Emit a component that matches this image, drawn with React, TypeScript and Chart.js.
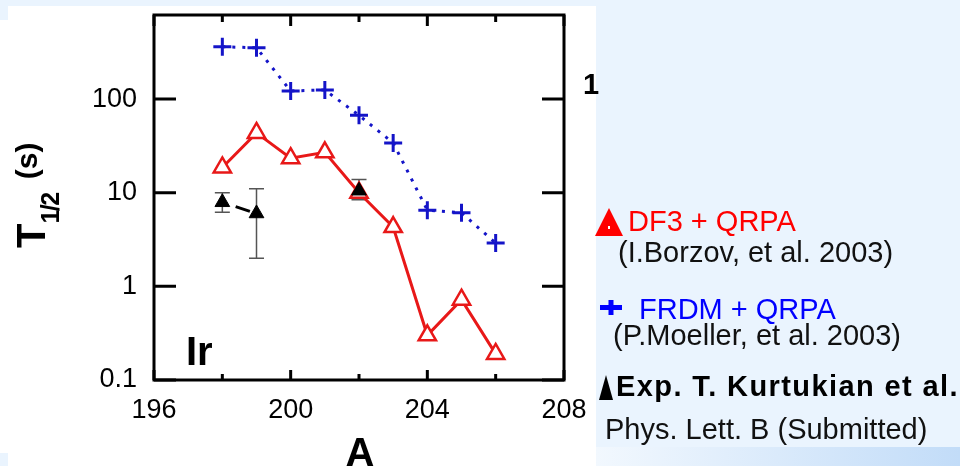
import React, { useEffect, useRef } from "react";
import { Chart, registerables } from "chart.js";
Chart.register(...registerables);

// ---- data ----
const massNumbers = [198, 199, 200, 201, 202, 203, 204, 205, 206];
const df3Values = [18.6, 43.5, 23.4, 27, 10, 4.3, 0.3, 0.72, 0.19];
const frdmValues = [362, 353, 122, 125, 67, 34, 6.5, 6.1, 2.9];
const expMass = [198, 199, 202];
const expValues = [7.9, 6.0, 10.5];
const expLow = [6.2, 2.0, 8.4];
const expHigh = [10.0, 11.0, 13.8];
const xTickValues = [196, 200, 204, 208];
const xTickLabels = ["196", "200", "204", "208"];
const xMinorTicks = [198, 202, 206];
const yTickValues = [0.1, 1, 10, 100];
const yTickLabels = ["0.1", "1", "10", "100"];

const FONT = "'Liberation Sans', Arial, Helvetica, sans-serif";
const RED = "#e81818";
const BLUE = "#1414c8";

const errorBarPlugin = {
  id: "errorBars",
  beforeDatasetsDraw(chart: any) {
    const { ctx } = chart;
    const xs = chart.scales.x;
    const ys = chart.scales.y;
    ctx.save();
    ctx.strokeStyle = "#555";
    ctx.lineWidth = 1.5;
    expMass.forEach((m, i) => {
      const px = xs.getPixelForValue(m);
      const lo = ys.getPixelForValue(expLow[i]);
      const hi = ys.getPixelForValue(expHigh[i]);
      ctx.beginPath();
      ctx.moveTo(px, lo);
      ctx.lineTo(px, hi);
      ctx.moveTo(px - 7.5, lo);
      ctx.lineTo(px + 7.5, lo);
      ctx.moveTo(px - 7.5, hi);
      ctx.lineTo(px + 7.5, hi);
      ctx.stroke();
    });
    ctx.restore();
  },
};

const framePlugin = {
  id: "frame",
  afterDraw(chart: any) {
    const { ctx, chartArea } = chart;
    const { left, right, top, bottom } = chartArea;
    const xs = chart.scales.x;
    const ys = chart.scales.y;
    ctx.save();
    ctx.strokeStyle = "#000";
    ctx.lineWidth = 3;
    ctx.beginPath();
    yTickValues.forEach((v) => {
      const py = ys.getPixelForValue(v);
      ctx.moveTo(left, py);
      ctx.lineTo(left + 22, py);
      ctx.moveTo(right, py);
      ctx.lineTo(right - 22, py);
    });
    xTickValues.forEach((v) => {
      const px = xs.getPixelForValue(v);
      ctx.moveTo(px, bottom);
      ctx.lineTo(px, bottom - 10);
      ctx.moveTo(px, top);
      ctx.lineTo(px, top + 11);
    });
    xMinorTicks.forEach((v) => {
      const px = xs.getPixelForValue(v);
      ctx.moveTo(px, bottom);
      ctx.lineTo(px, bottom - 6);
      ctx.moveTo(px, top);
      ctx.lineTo(px, top + 7);
    });
    ctx.stroke();
    ctx.strokeRect(left, top, right - left, bottom - top);
    ctx.restore();
  },
};

function Txt(props: {
  x: number;
  base: number;
  size: number;
  color?: string;
  bold?: boolean;
  ls?: number;
  children: React.ReactNode;
}) {
  const { x, base, size, color = "#000", bold = false, ls = 0 } = props;
  return (
    <div
      style={{
        position: "absolute",
        left: x,
        top: base - size * 0.8465,
        fontFamily: FONT,
        fontSize: size,
        lineHeight: `${size}px`,
        fontWeight: bold ? 700 : 400,
        color,
        whiteSpace: "nowrap",
        letterSpacing: ls,
      }}
    >
      {props.children}
    </div>
  );
}

export default function App() {
  const ref = useRef<HTMLCanvasElement | null>(null);

  useEffect(() => {
    if (!ref.current) return;
    const chart = new Chart(ref.current, {
      type: "line",
      data: {
        datasets: [
          {
            label: "Exp. T. Kurtukian et al.",
            data: expMass.map((m, i) => ({ x: m, y: expValues[i] })),
            borderColor: "#000",
            borderWidth: 3,
            borderDash: [15, 100],
            borderDashOffset: 101,
            pointStyle: "triangle",
            pointRadius: 8.5,
            pointBackgroundColor: "#000",
            pointBorderColor: "#000",
            pointBorderWidth: 1,
            segment: {
              borderColor: (c: any) =>
                c.p1.parsed.x - c.p0.parsed.x > 1 ? "rgba(0,0,0,0)" : "#000",
            },
          } as any,
          {
            label: "DF3 + QRPA",
            data: massNumbers.map((m, i) => ({ x: m, y: df3Values[i] })),
            borderColor: RED,
            borderWidth: 3,
            pointStyle: "triangle",
            pointRadius: 10,
            pointBorderWidth: 2.5,
            pointBorderColor: RED,
            pointBackgroundColor: "#fff",
          },
          {
            label: "FRDM + QRPA",
            data: massNumbers.map((m, i) => ({ x: m, y: frdmValues[i] })),
            borderColor: BLUE,
            borderWidth: 3,
            borderDash: [3, 7],
            pointStyle: "cross",
            pointRadius: 9,
            pointBorderWidth: 3,
            pointBorderColor: BLUE,
          },
        ],
      },
      options: {
        animation: false,
        responsive: false,
        maintainAspectRatio: false,
        layout: { padding: { left: 0, top: 15, right: 396, bottom: 0 } },
        plugins: { legend: { display: false }, tooltip: { enabled: false } },
        scales: {
          x: {
            type: "linear",
            min: 196,
            max: 208,
            afterBuildTicks: (s: any) => {
              s.ticks = xTickValues.map((v) => ({ value: v }));
            },
            afterFit: (s: any) => {
              s.height = 86;
              s.paddingLeft = 0;
              s.paddingRight = 0;
            },
            grid: { display: false, drawTicks: false },
            border: { display: false },
            ticks: {
              autoSkip: false,
              maxRotation: 0,
              padding: 14,
              color: "#000",
              font: { family: FONT, size: 27 },
              callback: (_v: any, i: number) => xTickLabels[i],
            },
          },
          y: {
            type: "logarithmic",
            min: 0.1,
            max: 790,
            afterBuildTicks: (s: any) => {
              s.ticks = yTickValues.map((v) => ({ value: v }));
            },
            afterFit: (s: any) => {
              s.width = 154;
              s.paddingTop = 0;
              s.paddingBottom = 0;
            },
            grid: { display: false, drawTicks: false },
            border: { display: false },
            ticks: {
              autoSkip: false,
              padding: 17,
              color: "#000",
              font: { family: FONT, size: 27 },
              callback: (_v: any, i: number) => yTickLabels[i],
            },
          },
        },
      } as any,
      plugins: [errorBarPlugin, framePlugin],
    });
    return () => chart.destroy();
  }, []);

  return (
    <div
      style={{
        position: "fixed",
        left: 0,
        top: 0,
        width: 960,
        height: 466,
        overflow: "hidden",
        background: "rgb(234,244,254)",
      }}
    >
      <div style={{ position: "absolute", left: 8, top: 6, width: 588, height: 460, background: "#fff" }} />
      <div style={{ position: "absolute", left: 0, top: 20, width: 8, height: 433, background: "#fff" }} />
      <div
        style={{
          position: "absolute",
          left: 596,
          top: 447,
          width: 364,
          height: 19,
          background: "linear-gradient(to right, #f2f8fe, #c2dcf8)",
        }}
      />
      <canvas
        ref={ref}
        width={960}
        height={466}
        style={{ position: "absolute", left: 0, top: 0, width: 960, height: 466 }}
      />
      {/* y-axis title */}
      <div
        style={{
          position: "absolute",
          left: 11,
          top: 248,
          transformOrigin: "0 0",
          transform: "rotate(-90deg)",
          fontFamily: FONT,
          fontWeight: 700,
          fontSize: 40,
          lineHeight: "40px",
          whiteSpace: "nowrap",
          color: "#000",
        }}
      >
        <span>T</span>
        <span style={{ fontSize: 25, lineHeight: 0, position: "relative", top: 14, letterSpacing: -1.5 }}>1/2</span>
        <span style={{ fontSize: 30, lineHeight: 0, position: "relative", top: -8, marginLeft: 14 }}>(s)</span>
      </div>
      {/* x-axis title */}
      <div
        style={{
          position: "absolute",
          left: 300,
          width: 120,
          textAlign: "center",
          top: 466 - 40 * 0.8465,
          fontFamily: FONT,
          fontWeight: 700,
          fontSize: 40,
          lineHeight: "40px",
          color: "#000",
        }}
      >
        A
      </div>
      <Txt x={186} base={365} size={40} bold>
        Ir
      </Txt>
      <Txt x={583} base={95} size={29} bold>
        1
      </Txt>
      {/* legend */}
      <svg
        width={960}
        height={466}
        style={{ position: "absolute", left: 0, top: 0, pointerEvents: "none" }}
      >
        <polygon points="595,236 609,208 623,236" fill="#ff0000" />
        <rect x={608} y={226} width={2} height={3} fill="#fff" />
        <rect x={600} y={305} width={22} height={5} fill="#0000ff" />
        <rect x={608.5} y={300} width={5} height={15} fill="#0000ff" />
        <polygon points="599,400 606,375 613,400" fill="#000" />
      </svg>
      <Txt x={628} base={232} size={29} color="#ff0000">
        DF3 + QRPA
      </Txt>
      <Txt x={618} base={263} size={29} color="#111">
        (I.Borzov, et al. 2003)
      </Txt>
      <Txt x={639} base={320} size={29} color="#0000ff">
        FRDM + QRPA
      </Txt>
      <Txt x={613} base={346} size={29} color="#111">
        (P.Moeller, et al. 2003)
      </Txt>
      <Txt x={616} base={397} size={29} bold ls={1.4} color="#000">
        Exp. T. Kurtukian et al.
      </Txt>
      <Txt x={605} base={440} size={29} color="#111">
        Phys. Lett. B (Submitted)
      </Txt>
    </div>
  );
}
